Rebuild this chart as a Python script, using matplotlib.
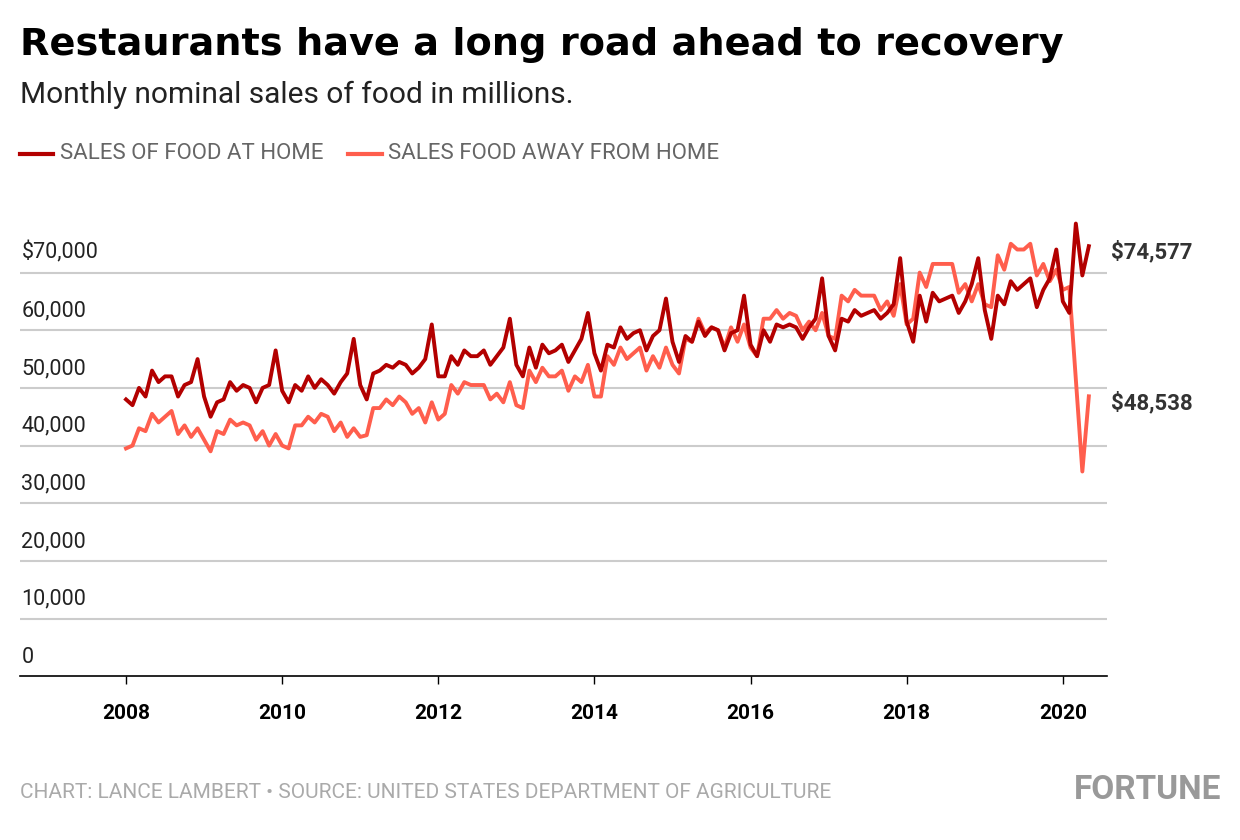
import matplotlib
matplotlib.use("Agg")
import matplotlib.pyplot as plt
import numpy as np

home = [48,47,50,48.5,53,51,52,52,48.5,50.5,51,55,
        48.5,45,47.5,48,51,49.5,50.5,50,47.5,50,50.5,56.5,
        49.5,47.5,50.5,49.5,52,50,51.5,50.5,49,51,52.5,58.5,
        50.5,48,52.5,53,54,53.5,54.5,54,52.5,53.5,55,61,
        52,52,55.5,54,56.5,55.5,55.5,56.5,54,55.5,57,62,
        54,52,57,53.5,57.5,56,56.5,57.5,54.5,56.5,58.5,63,
        56,53,57.5,57,60.5,58.5,59.5,60,56.5,59,60,65.5,
        58,54.5,59,58,61.5,59,60.5,60,56.5,59.5,60,66,
        57.5,55.5,60,58,61,60.5,61,60.5,58.5,60.5,62,69,
        59,56.5,62,61.5,63.5,62.5,63,63.5,62,63,64.5,72.5,
        61.5,58,66,61.5,66.5,65,65.5,66,63,65,68,72.5,
        63.5,58.5,66,64.5,68.5,67,68,69,64,67,69,74,
        65,63,78.5,69.5,74.577]
away = [39.5,40,43,42.5,45.5,44,45,46,42,43.5,41.5,43,
        41,39,42.5,42,44.5,43.5,44,43.5,41,42.5,40,42,
        40,39.5,43.5,43.5,45,44,45.5,45,42.5,44,41.5,43,
        41.5,41.8,46.5,46.5,48,47,48.5,47.5,45.5,46.5,44,47.5,
        44.5,45.5,50.5,49,51,50.5,50.5,50.5,48,49,47.5,51,
        47,46.5,53,51,53.5,52,52,53,49.5,52,51,54,
        48.5,48.5,55.5,54,57,55,56,57,53,55.5,53.5,57,
        54,52.5,58.5,58,62,59.5,60.5,60,57,60.5,58,61,
        57,55.5,62,62,63.5,62,63,62.5,60,61.5,60,63,
        59,58.5,66,65,67,66,66,66,63.5,65,62.5,68,
        61,62,70,67.5,71.5,71.5,71.5,71.5,66.5,68,65,68,
        64.5,64,73,70.5,75,74,74,75,69.5,71.5,68.5,70.5,
        67,67.5,51.5,35.5,48.538]
home = np.array(home)*1000
away = np.array(away)*1000
t = 2008 + np.arange(len(home))/12
yticks = [0,10000,20000,30000,40000,50000,60000,70000]
ylabels = ["0","10,000","20,000","30,000","40,000","50,000","60,000","$70,000"]
xticks = [2008,2010,2012,2014,2016,2018,2020]

plt.rcParams['font.family'] = ['Roboto','DejaVu Sans']
fig = plt.figure(figsize=(12.4,8.4), dpi=100)
ax = fig.add_axes([0.016,0.195,0.877,0.567])
ax.set_xlim(2006.64,2020.57)
ax.set_ylim(0,82600)
for y,l in zip(yticks,ylabels):
    if y>0: ax.axhline(y,color='#cccccc',lw=1.5,zorder=0)
    ax.text(2006.66,y+1500,l,fontsize=15.5,color='#222222',va='bottom',ha='left')
ax.plot(t,away,color='#ff5e4d',lw=2.8)
ax.plot(t,home,color='#b30000',lw=2.8)
ax.set_yticks([])
ax.set_xticks(xticks)
ax.set_xticklabels([str(x) for x in xticks],fontsize=15,fontweight='bold')
ax.tick_params(axis='x',length=6,width=1,pad=14)
for s in ['top','right','left']: ax.spines[s].set_visible(False)
ax.spines['bottom'].set_linewidth(1.2)
ax.text(1.003,73500/82600,"$74,577",transform=ax.transAxes,fontsize=16,fontweight='bold',color='#333333',va='center')
ax.text(1.003,47300/82600,"$48,538",transform=ax.transAxes,fontsize=16,fontweight='bold',color='#333333',va='center')

fig.text(0.016,0.947,"Restaurants have a long road ahead to recovery",fontsize=27.5,fontweight='bold',
         family=['DejaVu Sans'],va='center')
fig.text(0.016,0.887,"Monthly nominal sales of food in millions.",fontsize=21.5,color='#222222',va='center')
fig.lines.append(plt.Line2D([0.016,0.043],[0.817,0.817],color='#b30000',lw=3,transform=fig.transFigure))
fig.text(0.048,0.817,"SALES OF FOOD AT HOME",fontsize=16,color='#666666',va='center')
fig.lines.append(plt.Line2D([0.281,0.308],[0.817,0.817],color='#ff5e4d',lw=3,transform=fig.transFigure))
fig.text(0.313,0.817,"SALES FOOD AWAY FROM HOME",fontsize=16,color='#666666',va='center')
fig.text(0.016,0.057,"CHART: LANCE LAMBERT • SOURCE: UNITED STATES DEPARTMENT OF AGRICULTURE",fontsize=15,color='#aaaaaa',va='center')
fig.text(0.985,0.06,"FORTUNE",fontsize=24,fontweight='bold',color='#999999',va='center',ha='right')
fig.savefig("out.png",dpi=100)
